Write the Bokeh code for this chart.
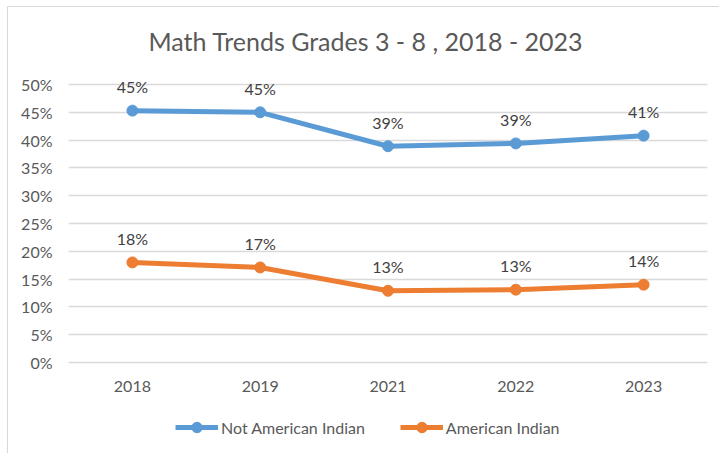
from bokeh.plotting import figure
from bokeh.models import (ColumnDataSource, NumeralTickFormatter, FixedTicker,
                          Legend, LegendItem, Range1d, FactorRange)
from bokeh.core.properties import value
from bokeh.embed import file_html
from bokeh.resources import INLINE

years = ["2018", "2019", "2021", "2022", "2023"]
not_american_indian = [0.453, 0.450, 0.389, 0.394, 0.408]
american_indian = [0.180, 0.171, 0.129, 0.131, 0.140]
not_ai_labels = ["45%", "45%", "39%", "39%", "41%"]
ai_labels = ["18%", "17%", "13%", "13%", "14%"]
y_ticks = [0, 0.05, 0.10, 0.15, 0.20, 0.25, 0.30, 0.35, 0.40, 0.45, 0.50]
zeros = [0, 0, 0, 0, 0]

FONT = "Lato"
TXT = "#595959"
BLUE = "#5B9BD5"
ORANGE = "#ED7D31"
GRID = "#D9D9D9"

# layout (pixels)
W, H = 712, 447
TOP, LEFT, RIGHT = 64, 60, 13
EXTRA_TOP = 13               # frame space above the 50% gridline
PX_PER_HALF = 278            # pixels between 0% and 50%
frame_h = H - TOP
y_max = 0.5 + 0.5 * EXTRA_TOP / PX_PER_HALF
y_min = y_max - 0.5 * frame_h / PX_PER_HALF

p = figure(width=W, height=H, x_range=FactorRange(*years),
           y_range=Range1d(y_min, y_max), output_backend="svg", toolbar_location=None,
           min_border_left=LEFT, min_border_right=RIGHT, min_border_top=TOP,
           min_border_bottom=0)
p.styles = {"border-left": "1px solid #D9D9D9", "border-top": "1px solid #D9D9D9",
            "margin-left": "7px", "margin-top": "6px"}
p.outline_line_color = None
p.background_fill_color = "white"

p.title.text = "Math Trends Grades 3 - 8 , 2018 - 2023"
p.title.align = "left"
p.title.text_font = FONT
p.title.text_font_size = "25px"
p.title.text_font_style = "normal"
p.title.text_color = TXT
p.title.offset = 80
p.title.standoff = 32

p.xaxis.visible = False
p.yaxis.ticker = FixedTicker(ticks=y_ticks)
p.yaxis.formatter = NumeralTickFormatter(format="0%")
p.yaxis.axis_line_color = None
p.yaxis.major_tick_line_color = None
p.yaxis.minor_tick_line_color = None
p.yaxis.major_label_standoff = 10
p.yaxis.major_label_text_font = FONT
p.yaxis.major_label_text_font_size = "16px"
p.yaxis.major_label_text_color = TXT

p.xgrid.grid_line_color = None
p.ygrid.grid_line_color = GRID
p.ygrid.grid_line_width = 1.5
p.ygrid.ticker = FixedTicker(ticks=y_ticks)

src = ColumnDataSource(dict(x=years, a=not_american_indian, b=american_indian,
                            la=not_ai_labels, lb=ai_labels, z=zeros))

# category labels under the 0% line
p.text(x="x", y="z", text="x", source=src, y_offset=24,
       text_align="center", text_baseline="middle",
       text_font=value(FONT), text_font_size="16px", text_color=TXT)

l1 = p.line("x", "a", source=src, color=BLUE, line_width=5)
c1 = p.scatter("x", "a", source=src, size=11, color=BLUE)
l2 = p.line("x", "b", source=src, color=ORANGE, line_width=5)
c2 = p.scatter("x", "b", source=src, size=11, color=ORANGE)

for col, lab in (("a", "la"), ("b", "lb")):
    p.text(x="x", y=col, text=lab, source=src, y_offset=-24,
           text_align="center", text_baseline="middle",
           text_font=value(FONT), text_font_size="16px", text_color="#404040")

legend = Legend(items=[LegendItem(label="Not American Indian", renderers=[l1, c1]),
                       LegendItem(label="American Indian", renderers=[l2, c2])],
                orientation="horizontal", location=(107, 14), margin=0, padding=4,
                glyph_width=43, glyph_height=26, label_standoff=3, spacing=35,
                label_text_font=FONT, label_text_font_size="16px",
                label_text_color=TXT, border_line_color=None,
                background_fill_alpha=0)
p.add_layout(legend, "center")

open("out.html", "w").write(file_html(p, INLINE))
